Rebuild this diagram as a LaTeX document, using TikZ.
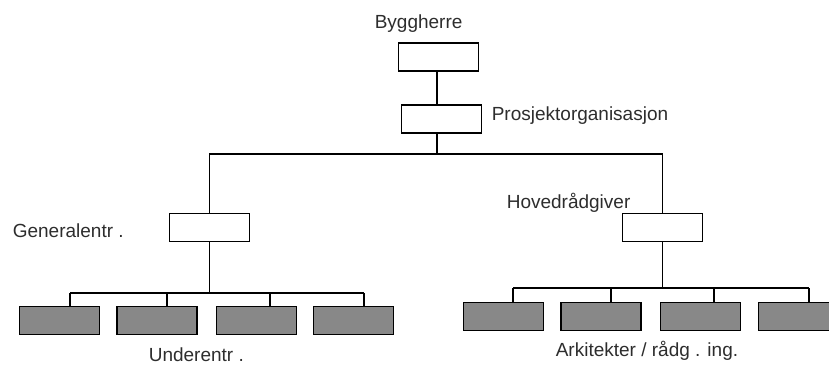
\documentclass[tikz,border=0pt]{standalone}
\usepackage{fontspec}
\setmainfont{Liberation Sans}
\definecolor{boxgray}{RGB}{136,136,136}
\definecolor{txt}{RGB}{45,45,45}
\begin{document}
\begin{tikzpicture}[x=1pt,y=-1pt,
  line width=1.6pt,
  wbox/.style={draw=black,fill=white,inner sep=0pt,minimum width=80pt,minimum height=28pt},
  gbox/.style={draw=black,fill=boxgray,inner sep=0pt,minimum width=80pt,minimum height=28pt},
  lbl/.style={anchor=base west,inner sep=0pt,text=txt,font=\fontsize{19pt}{22pt}\selectfont}]
\useasboundingbox (0,0) rectangle (829,365);
\clip (0,0) rectangle (829,365);
% boxes
\node[wbox] (by) at (438.5,57) {};
\node[wbox] (po) at (441.5,119) {};
\node[wbox] (ge) at (209.5,227.5) {};
\node[wbox] (hr) at (662.5,227.5) {};
\node[gbox] (u1) at (59.5,320.5) {};
\node[gbox] (u2) at (157,320.5) {};
\node[gbox] (u3) at (256.5,320.5) {};
\node[gbox] (u4) at (353.5,320.5) {};
\node[gbox] (a1) at (503.5,316.5) {};
\node[gbox] (a2) at (601,316.5) {};
\node[gbox] (a3) at (700.5,316.5) {};
\node[gbox] (a4) at (798.5,316.5) {};
% labels
\node[lbl] (tby) at (374,28) {Byggherre};
\node[lbl] (tpo) at (491,120) {Prosjektorganisasjon};
\node[lbl] (tge) at (12,237) {Generalentr .};
\node[lbl] (thr) at (506,208) {Hovedrådgiver};
\node[lbl] (tun) at (148,361) {Underentr .};
\node[lbl] (tar) at (555,356) {Arkitekter / rådg . ing.};
% connectors
\coordinate (v) at (437,154);
\draw (v |- by.south) -- (v |- po.north);
\draw (v |- po.south) -- (v);
\draw (ge.north) |- (v) -| (hr.north);
% left sub-tree
\coordinate (d1) at (70,293);
\coordinate (d2) at (167,293);
\coordinate (d3) at (270,293);
\coordinate (d4) at (364,293);
\draw (ge.south) -- (ge.south |- d1);
\draw (d1) -- (d4);
\draw (d1) -- (d1 |- u1.north);
\draw (d2) -- (d2 |- u2.north);
\draw (d3) -- (d3 |- u3.north);
\draw (d4) -- (d4 |- u4.north);
% right sub-tree
\coordinate (e1) at (513,288);
\coordinate (e2) at (611,288);
\coordinate (e3) at (714,288);
\coordinate (e4) at (809,288);
\draw (hr.south) -- (hr.south |- e1);
\draw (e1) -- (e4);
\draw (e1) -- (e1 |- a1.north);
\draw (e2) -- (e2 |- a2.north);
\draw (e3) -- (e3 |- a3.north);
\draw (e4) -- (e4 |- a4.north);
\end{tikzpicture}
\end{document}
